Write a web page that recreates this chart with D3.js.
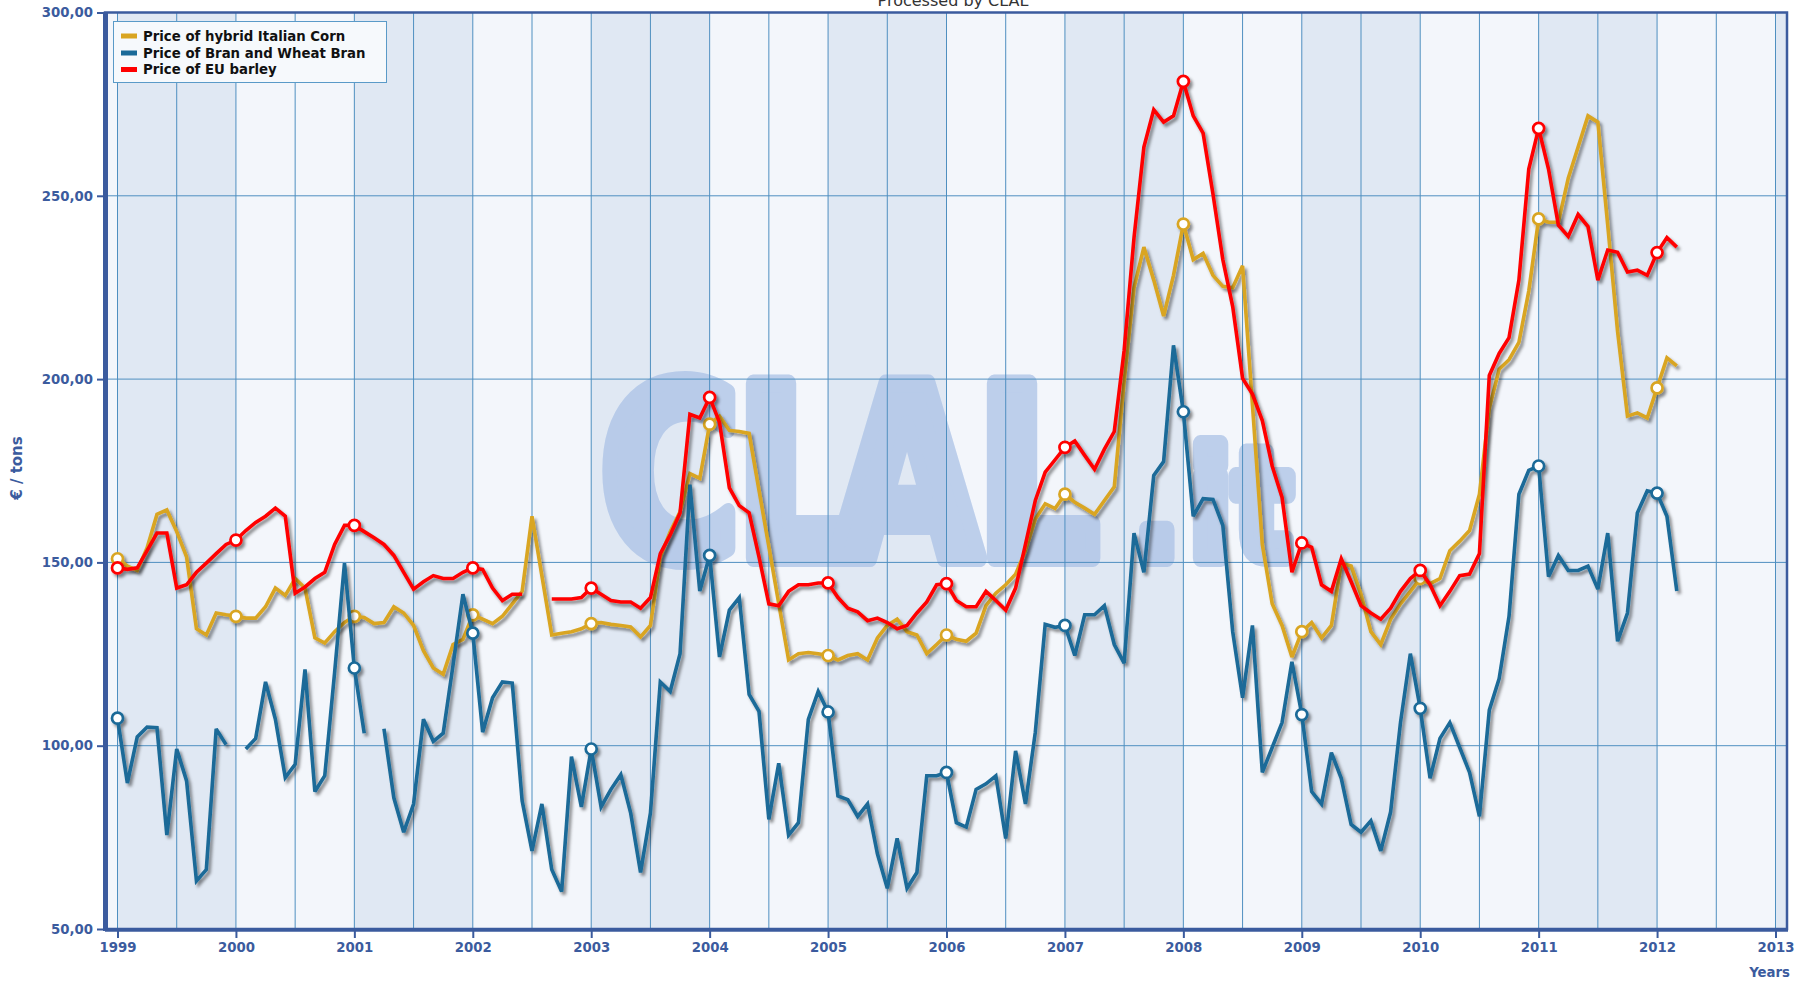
<!DOCTYPE html>
<html><head><meta charset="utf-8">
<script src="https://cdn.jsdelivr.net/npm/d3@7"></script>
<style>body{margin:0;background:#fff;}svg{display:block;}</style>
</head><body>
<svg id="chart" width="1812" height="981"></svg>
<script>
// ---- DATA (monthly, Jan 1999 .. Mar 2012), €/ton ----
const startYear = 1999;
const yearTicks = [1999,2000,2001,2002,2003,2004,2005,2006,2007,2008,2009,2010,2011,2012,2013];
const yTicks = [50,100,150,200,250,300];
const seriesNames = ["Price of hybrid Italian Corn","Price of Bran and Wheat Bran","Price of EU barley"];
const seriesColors = ["#D9A521","#1A6A98","#FF0000"];

const cornPrices = [
 151,149,147.8,154,163.1,164.3,158.4,151.5,131.9,130.2,136.2,135.7,
 135.3,134.8,134.8,137.9,143,141,145.6,143,129.4,128,131.1,133.6,
 135.3,135,133.3,133.6,137.9,136.2,132.8,125.9,121.2,119.5,127.6,129,
 135.7,134.5,133.3,135.3,138.7,142.1,162.6,146.4,130.2,130.7,131.1,131.9,
 133.3,133.6,133.1,132.8,132.4,129.7,132.8,151.5,158.4,163.8,174.2,172.9,
 187.7,189.9,186,185.7,185.2,169.7,154.3,138.8,123.4,125.1,125.4,125.1,
 124.6,123.4,124.6,125.1,123.4,129.4,132.8,134.5,131.1,130.2,125.1,127.6,
 130.2,129,128.5,130.7,138.2,141.6,143.9,146.8,153.2,161.8,166,164.7,
 168.6,166.4,164.8,163.1,166.9,170.6,199.3,224.9,236,227,217.2,228.3,
 242.3,232.6,234.3,228.3,225.3,224.9,230.9,193,154.9,138.7,132.8,124.2,
 131.1,133.6,129.4,132.8,149.8,149,141.3,131.1,127.6,134.5,138.7,142.1,
 145.6,144.2,145.6,153.2,155.8,158.7,168.6,192,202.7,205.3,210,224,
 243.7,242.8,242.8,254.8,263.3,271.8,270.1,242,213,189.9,190.8,189.4,
 197.6,205.8,203.6
];
const branPrices = [
 107.5,89.8,102.4,105.1,104.9,75.6,99.1,90.4,63.1,66.2,104.6,100.3,
 null,99.1,102,117.4,107.2,91.3,94.9,120.8,87.5,91.8,120,149.8,
 121.2,103.4,null,104.6,85.8,76.4,84.1,107.2,101.2,103.4,122,141.3,
 130.7,103.7,113.1,117.4,117.1,85,71.3,84.1,66.2,60.2,97,83.3,
 99.1,83.3,88.1,92.1,81.6,65.4,81.6,117.4,114.8,125.1,171.2,142.2,
 151.9,124.2,137,140.4,114,109.4,79.9,95.2,75.6,79,107.2,114.8,
 109.2,86.3,85.3,80.7,84.1,70.5,61.1,74.7,61.1,65.4,91.8,91.8,
 92.7,79,77.8,88.1,89.6,91.8,74.7,98.6,84.1,103.7,133.1,132.3,
 132.8,124.6,135.7,135.7,138.2,127.6,122.5,158,147.3,173.7,177.5,209.2,
 191.1,162.6,167.4,167.2,160.1,131.1,113.1,132.8,92.7,99.5,106.3,122.9,
 108.5,87.5,84.1,98.1,91.1,78.5,76.4,79.5,71.3,81.9,106.3,125.1,
 110.2,91.1,102,106.3,99.5,92.7,80.7,109.7,118.3,135.3,168.6,175.1,
 176.3,146.1,151.9,147.8,147.8,149,142.7,158,128.5,136.2,163.5,169.5,
 168.9,162.6,142.2
];
const barleyPrices = [
 148.5,148.1,148.5,153.2,158,158,143,143.9,147.3,149.8,152.4,154.9,
 156.1,158.7,160.9,162.6,164.8,162.6,141.6,143.3,145.6,147.3,154.9,160.1,
 160.1,158.4,156.7,154.9,151.9,147.3,142.7,144.7,146.4,145.6,145.6,147.3,
 148.5,148.1,143,139.6,141.3,141.3,null,null,140,140,140,140.4,
 143,141.3,139.6,139.2,139.2,137.5,140.4,152.4,157.5,163.5,190.4,189.4,
 195,188.2,170.3,165.5,163.5,151.5,138.7,138.2,142.1,143.9,143.9,144.4,
 144.4,140.4,137.5,136.5,134.1,134.8,133.6,131.9,132.8,136.2,139.2,143.9,
 144.2,139.6,137.9,137.9,142.1,139.6,137,143,154.9,166.9,174.6,178,
 181.4,183.1,179.2,175.4,180.9,185.7,207.8,238.6,263.3,273.5,270.1,271.8,
 281.2,271.8,267.1,250.5,232.6,219.8,200.2,195.9,188.7,176.3,167.7,147.3,
 155.3,154.1,143.9,142.1,151,144.7,138.2,136.2,134.5,137.5,142.1,145.6,
 147.8,143.9,138.2,142.1,146.4,146.8,152.4,201,207,211.3,227,257.3,
 268.4,257.3,242,238.9,244.9,241.6,227,235.2,234.6,229.2,229.7,228.3,
 234.5,238.6,236
];

// ---- LAYOUT ----
const W = 1812, H = 981;
const plotL = 105, plotR = 1787, plotT = 12.5, plotB = 929;
const axisColor = "#3B5B9E";
const gridColor = "#4F8FC0";
const font = "'DejaVu Sans', Verdana, sans-serif";

const x = d3.scaleLinear().domain([1999, 2013]).range([117.5, 1775.5]);
const y = d3.scaleLinear().domain([50, 300]).range([plotB, plotT]);

const svg = d3.select("#chart");
const defs = svg.append("defs");
const f = defs.append("filter").attr("id","shadow").attr("filterUnits","userSpaceOnUse")
  .attr("x",0).attr("y",0).attr("width",W).attr("height",H);
f.append("feDropShadow").attr("dx",2.5).attr("dy",3).attr("stdDeviation",1.5)
  .attr("flood-color","#000").attr("flood-opacity",0.45);
defs.append("clipPath").attr("id","plotClip").append("rect")
  .attr("x",plotL).attr("y",plotT).attr("width",plotR-plotL).attr("height",plotB-plotT);

// title (partially cut at top, as in the original)
svg.append("text").attr("x",953).attr("y",5.5).attr("text-anchor","middle")
  .attr("font-family",font).attr("font-size",16).attr("fill","#333").text("Processed by CLAL");

// bands by year
const bandYears = d3.range(1998, 2014);
const gPlot = svg.append("g").attr("clip-path","url(#plotClip)");
gPlot.selectAll("rect.band").data(bandYears).join("rect").attr("class","band")
  .attr("x", d => Math.max(plotL, x(d)))
  .attr("width", d => Math.min(plotR, x(d+1)) - Math.max(plotL, x(d)))
  .attr("y", plotT).attr("height", plotB - plotT)
  .attr("fill", d => d % 2 ? "#E0E8F3" : "#F3F6FB");

// watermark "CLAL.it" (single text, glyphs positioned individually, squeezed horizontally)
const sx = 0.8;
const wmText = gPlot.append("text").attr("transform",`scale(${sx},1)`).attr("y",558)
  .attr("opacity",0.72).attr("fill","#A9C1E6").attr("stroke","#A9C1E6")
  .attr("stroke-width",18).attr("stroke-linejoin","round")
  .attr("font-family",font).attr("font-weight","bold");
wmText.append("tspan").attr("font-size",239)
  .attr("x",[600,735.6,833,976.6].map(v => v / sx).join(" ")).text("CLAL");
wmText.append("tspan").attr("font-size",150)
  .attr("x",[1134,1190,1234].map(v => v / sx).join(" ")).text(".it");

// grid
const halfYears = d3.range(1999, 2013.01, 0.5);
gPlot.append("g").selectAll("line").data(halfYears).join("line")
  .attr("x1", d => x(d)).attr("x2", d => x(d)).attr("y1", plotT).attr("y2", plotB)
  .attr("stroke", gridColor).attr("stroke-width",1);
gPlot.append("g").selectAll("line").data(yTicks.filter(v => v > 50 && v < 300)).join("line")
  .attr("x1", plotL).attr("x2", plotR).attr("y1", d => y(d)).attr("y2", d => y(d))
  .attr("stroke", gridColor).attr("stroke-width",1);

// series
const allSeries = [cornPrices, branPrices, barleyPrices].map((arr, si) => ({
  name: seriesNames[si], color: seriesColors[si],
  values: arr.map((v, i) => ({t: startYear + i / 12, v: v, m: i % 12}))
}));
const line = d3.line().defined(d => d.v != null).x(d => x(d.t)).y(d => y(d.v));
const gLines = gPlot.append("g");
allSeries.forEach(s => {
  const g = gLines.append("g").attr("filter","url(#shadow)");
  g.append("path").datum(s.values).attr("d", line).attr("fill","none")
    .attr("stroke", s.color).attr("stroke-width",3.6)
    .attr("stroke-linejoin","miter").attr("stroke-miterlimit",3);
  g.selectAll("circle").data(s.values.filter(d => d.m === 0 && d.v != null)).join("circle")
    .attr("cx", d => x(d.t)).attr("cy", d => y(d.v)).attr("r",5.5)
    .attr("fill","#fff").attr("stroke", s.color).attr("stroke-width",2.7);
});

// border
const gB = svg.append("g");
gB.append("rect").attr("x",plotL).attr("y",plotT).attr("width",plotR-plotL).attr("height",plotB-plotT)
  .attr("fill","none").attr("stroke",axisColor).attr("stroke-width",2.5);
gB.append("line").attr("x1",plotL+0.5).attr("x2",plotL+0.5).attr("y1",plotT).attr("y2",plotB+2)
  .attr("stroke",axisColor).attr("stroke-width",5);
gB.append("line").attr("x1",plotL).attr("x2",plotR+1).attr("y1",plotB+1).attr("y2",plotB+1)
  .attr("stroke",axisColor).attr("stroke-width",3.5);

// axes
const yAxis = d3.axisLeft(y).tickValues(yTicks)
  .tickFormat(d => d3.format(".2f")(d).replace(".", ",")).tickSize(7).tickPadding(4);
const gy = svg.append("g").attr("transform",`translate(${plotL-1},0)`).call(yAxis);
gy.select(".domain").remove();
gy.selectAll("line").attr("stroke",axisColor).attr("stroke-width",2);
gy.selectAll("text").attr("font-family",font).attr("font-weight","bold").attr("font-size",13.3).attr("fill",axisColor);

const xAxis = d3.axisBottom(x).tickValues(yearTicks).tickFormat(d3.format("d")).tickSize(7).tickPadding(5);
const gx = svg.append("g").attr("transform",`translate(0,${plotB+2})`).call(xAxis);
gx.select(".domain").remove();
gx.selectAll("line").attr("stroke",axisColor).attr("stroke-width",2);
gx.selectAll("text").attr("font-family",font).attr("font-weight","bold").attr("font-size",13.3).attr("fill",axisColor);

svg.append("text").attr("x",1790).attr("y",977).attr("text-anchor","end")
  .attr("font-family",font).attr("font-weight","bold").attr("font-size",13.3).attr("fill",axisColor).text("Years");
svg.append("text").attr("transform",`translate(22,468) rotate(-90)`).attr("text-anchor","middle")
  .attr("font-family",font).attr("font-weight","bold").attr("font-size",15).attr("fill",axisColor).text("€ / tons");

// legend
const lg = svg.append("g");
lg.append("rect").attr("x",113.5).attr("y",21.5).attr("width",273).attr("height",61)
  .attr("fill","#F6F9FC").attr("stroke","#5A9AC8").attr("stroke-width",1);
const rowY = [36, 53, 69.5];
allSeries.forEach((s, i) => {
  lg.append("rect").attr("x",121).attr("y",rowY[i]-2.5).attr("width",16).attr("height",5).attr("fill",s.color);
  lg.append("text").attr("x",143).attr("y",rowY[i]+4.5).attr("font-family",font).attr("font-weight","bold")
    .attr("font-size",13.3).attr("fill","#111").text(s.name);
});
</script>
</body></html>
